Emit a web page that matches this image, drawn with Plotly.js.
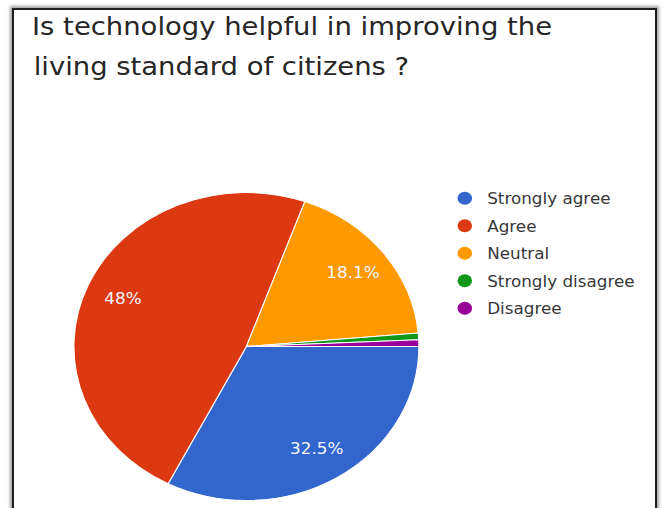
<!DOCTYPE html>
<html>
<head>
<meta charset="utf-8">
<script src="https://cdn.plot.ly/plotly-3.0.1.min.js"></script>
<style>
  html, body { margin: 0; padding: 0; background: #ffffff; overflow: hidden; }
  #wrap { position: relative; width: 663px; height: 508px; overflow: hidden; background: #fff; }
  #plot { position: absolute; left: 0; top: 0; width: 592px; height: 508px;
          transform: scaleX(1.12); transform-origin: 0 0; }
  #frame { position: absolute; left: 12px; top: 8px; width: 641px; height: 540px;
           border: 2px solid #1e1e1e; box-shadow: 0 0 3px 2px #a0a0a0; pointer-events: none; }
</style>
</head>
<body>
<div id="wrap">
  <div id="plot"></div>
  <div id="frame"></div>
</div>
<script>
const titleLine1 = 'Is technology helpful in improving the';
const titleLine2 = 'living standard of citizens ?';
const categories = ['Strongly agree', 'Agree', 'Neutral', 'Strongly disagree', 'Disagree'];
const percents = [32.5, 48, 18.1, 0.7, 0.7];
const colors = ['#3366cc', '#dc3912', '#ff9900', '#109618', '#990099'];

const W = 592, H = 508;
const cx = 220, cy = 346.5, r = 154;
const domain = {
  x: [(cx - r) / W, (cx + r) / W],
  y: [(H - cy - r) / H, (H - cy + r) / H]
};

// filled slices
const pie = {
  type: 'pie',
  labels: categories,
  values: percents,
  sort: false,
  direction: 'clockwise',
  rotation: 90,
  marker: { colors: colors, line: { color: '#ffffff', width: 1 } },
  textinfo: 'none',
  showlegend: false,
  hoverinfo: 'label+percent',
  domain: domain
};

// percentage labels (transparent ring so labels sit towards the rim)
const pieLabels = {
  type: 'pie',
  labels: categories,
  values: percents,
  sort: false,
  direction: 'clockwise',
  rotation: 90,
  hole: 0.56,
  marker: { colors: categories.map(() => 'rgba(0,0,0,0)'), line: { width: 0 } },
  textinfo: 'percent',
  textposition: percents.map(v => v < 2 ? 'none' : 'inside'),
  insidetextorientation: 'horizontal',
  insidetextfont: { family: 'DejaVu Sans', size: 15, color: '#f4f6fb' },
  showlegend: false,
  hoverinfo: 'skip',
  domain: domain
};

const legendTraces = categories.map((c, i) => ({
  type: 'scatter',
  mode: 'markers',
  x: [null], y: [null],
  name: c,
  legendgroup: 'g' + i,
  marker: { color: colors[i], size: 13, symbol: 'circle' },
  showlegend: true,
  hoverinfo: 'skip'
}));

const layout = {
  width: W, height: H,
  margin: { l: 0, r: 0, t: 0, b: 0 },
  paper_bgcolor: '#ffffff',
  plot_bgcolor: '#ffffff',
  font: { family: 'DejaVu Sans', color: '#333333' },
  title: {
    text: titleLine1,
    x: 28.6 / W, xanchor: 'left', xref: 'container',
    y: 1 - 17.9 / H, yanchor: 'top', yref: 'container',
    font: { family: 'DejaVu Sans', size: 24.5, color: '#262626' }
  },
  annotations: [{
    text: titleLine2,
    xref: 'paper', yref: 'paper',
    x: 27.6 / W, xanchor: 'left',
    y: 1 - 66 / H, yanchor: 'middle',
    showarrow: false,
    font: { family: 'DejaVu Sans', size: 24.5, color: '#262626' }
  }],
  xaxis: { visible: false },
  yaxis: { visible: false },
  showlegend: true,
  legend: {
    x: 395 / W, xanchor: 'left',
    y: 1 - 182 / H, yanchor: 'top',
    traceorder: 'grouped',
    tracegroupgap: 5,
    font: { family: 'DejaVu Sans', size: 15, color: '#383838' },
    bgcolor: 'rgba(0,0,0,0)',
    borderwidth: 0
  }
};

Plotly.newPlot('plot', [pie, pieLabels].concat(legendTraces), layout, { displayModeBar: false, staticPlot: true });
</script>
</body>
</html>
